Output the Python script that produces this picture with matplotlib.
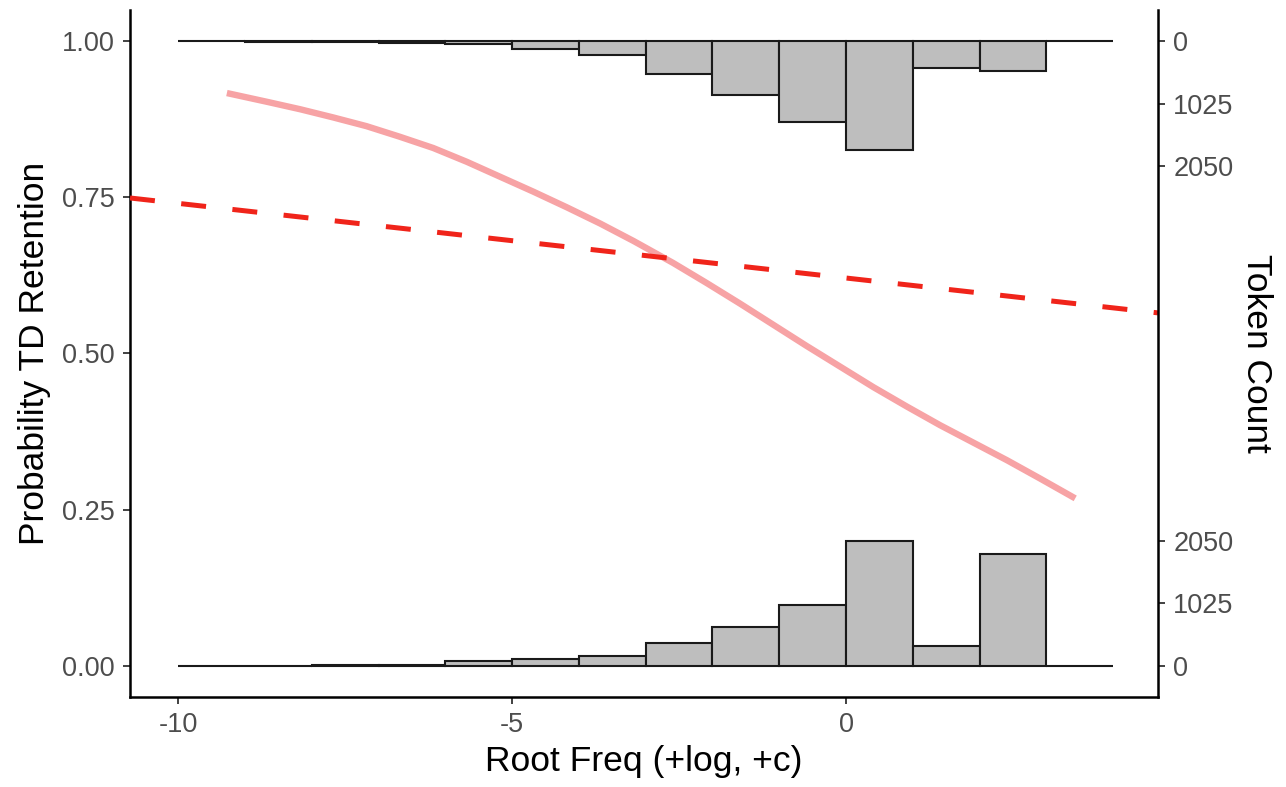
import numpy as np
import matplotlib
matplotlib.use("Agg")
import matplotlib.pyplot as plt

plt.rcParams['font.family'] = ['Liberation Sans', 'DejaVu Sans']

# histogram bins (left edges, width 1) and token counts
bin_left = [-10, -9, -8, -7, -6, -5, -4, -3, -2, -1, 0, 1, 2, 3]
count_retained = [0, 3, 5, 15, 75, 105, 157, 372, 628, 1000, 2050, 328, 1832, 0]
count_lost = [2, 5, 10, 25, 50, 125, 225, 546, 890, 1328, 1783, 443, 492, 0]

# fitted curve
fit_x = [-9.27, -8.67, -8.17, -7.68, -7.18, -6.68, -6.18, -5.68, -5.18, -4.68,
         -4.18, -3.68, -3.18, -2.59, -2.09, -1.59, -1.09, -0.59, -0.09, 0.41,
         0.91, 1.41, 1.91, 2.41, 2.90, 3.43]
fit_y = [0.917, 0.903, 0.891, 0.878, 0.864, 0.847, 0.829, 0.807, 0.783, 0.759,
         0.734, 0.708, 0.680, 0.645, 0.613, 0.580, 0.546, 0.512, 0.479, 0.446,
         0.415, 0.385, 0.357, 0.329, 0.300, 0.268]

# dashed reference line
ref_x = [-10.72, 4.67]
ref_y = [0.749, 0.565]

count_max = 2050
hist_span = 0.2  # fraction of the probability axis used by a full bar

right_ticks = [0, 0.1, 0.2, 0.8, 0.9, 1.0]
right_labels = ['0', '1025', '2050', '2050', '1025', '0']


def main():
    fig = plt.figure(figsize=(12.86, 7.87), dpi=100)
    ax = fig.add_axes([0.1011, 0.1144, 0.7994, 0.8729])

    centers = np.array(bin_left) + 0.5
    scale = hist_span / count_max
    bottom_h = np.array(count_retained) * scale
    top_h = np.array(count_lost) * scale

    bar_kw = dict(width=1.0, color='#BEBEBE', edgecolor='#1a1a1a', linewidth=1.5, zorder=2)
    ax.bar(centers, bottom_h, bottom=0.0, **bar_kw)
    ax.bar(centers, -top_h, bottom=1.0, **bar_kw)

    ax.plot(fit_x, fit_y, color='#F7A3A5', linewidth=4.6, solid_capstyle='butt',
            solid_joinstyle='round', zorder=3)
    ax.plot(ref_x, ref_y, color='#F0241A', linewidth=3.6, dashes=(5.0, 5.3), zorder=4)

    ax.set_xlim(-10.72, 4.67)
    ax.set_ylim(-0.05, 1.05)
    ax.set_xticks([-10, -5, 0])
    ax.set_xticklabels(['-10', '-5', '0'])
    ax.set_yticks([0, 0.25, 0.5, 0.75, 1.0])
    ax.set_yticklabels(['0.00', '0.25', '0.50', '0.75', '1.00'])

    ax.spines['top'].set_visible(False)
    ax.spines['right'].set_visible(False)
    for s in ['left', 'bottom']:
        ax.spines[s].set_linewidth(1.8)

    ax.tick_params(axis='both', labelsize=19.5, labelcolor='#4D4D4D', color='#333333',
                   length=5, width=1.3, pad=6)
    ax.set_xlabel('Root Freq (+log, +c)', fontsize=25.5, labelpad=5)
    ax.set_ylabel('Probability TD Retention', fontsize=25.5, labelpad=8)

    ax2 = ax.twinx()
    ax2.set_ylim(ax.get_ylim())
    ax2.set_yticks(right_ticks)
    ax2.set_yticklabels(right_labels)
    ax2.spines['top'].set_visible(False)
    ax2.spines['left'].set_visible(False)
    ax2.spines['bottom'].set_visible(False)
    ax2.spines['right'].set_linewidth(1.8)
    ax2.tick_params(axis='y', labelsize=19.5, labelcolor='#4D4D4D', color='#333333',
                    length=5, width=1.3, pad=6)
    ax2.set_ylabel('Token Count', fontsize=25.5, rotation=270, labelpad=28)

    fig.savefig('out.png', dpi=100)


if __name__ == "__main__":
    main()
